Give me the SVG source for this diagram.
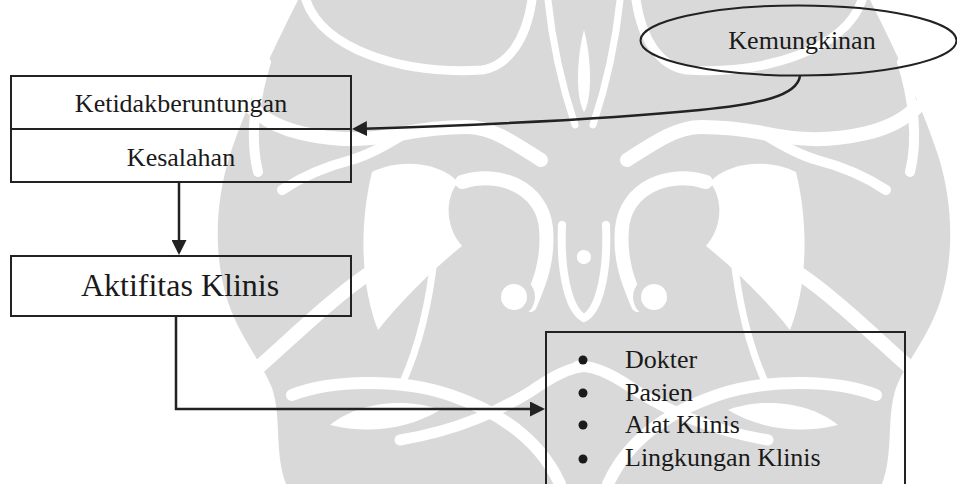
<svg xmlns="http://www.w3.org/2000/svg" xmlns:xlink="http://www.w3.org/1999/xlink" width="957" height="484" viewBox="0 0 957 484">
  <style>
    .wm { fill: #d9d9d9; stroke: none; }
    .wf { fill: #ffffff; stroke: none; }
    .wg { fill: none; stroke: #ffffff; stroke-linecap: round; }
    .shape { fill: none; stroke: #222222; stroke-width: 2; }
    .link { fill: none; stroke: #222222; stroke-width: 2.5; }
    text { font-family: "Liberation Serif", "Times New Roman", serif; fill: #1a1a1a; }
    .t26 { font-size: 26px; }
    .t32 { font-size: 32px; }
    .mid { text-anchor: middle; }
  </style>
  <defs>
    <marker id="ah" viewBox="0 0 15 15" refX="12" refY="7.5" markerWidth="15" markerHeight="15" markerUnits="userSpaceOnUse" orient="auto">
      <path d="M0,0 L15,7.5 L0,15 Z" fill="#222222"/>
    </marker>
    <!-- left half of the background ornament, mirrored about x=584 -->
    <g id="ornament-half">
      <path class="wm" d="M584,0 H298 C278,40 246,105 230,155 C214,205 214,260 228,302 C240,338 262,362 272,388 C282,418 274,452 286,484 H584 Z"/>
      <!-- upper arcs -->
      <path class="wg" stroke-width="9" d="M306,0 C322,48 400,75 482,70 C508,66 526,40 532,0"/>
      <path class="wg" stroke-width="10" d="M266,62 C254,100 250,140 258,172"/>
      <path class="wg" stroke-width="14" d="M541,160 C510,140 490,127 467,127 C440,127 420,130 400,134 C370,140 340,142 301,133 C280,128 262,118 251,107"/>
      <path class="wg" stroke-width="10" d="M404,134 C385,146 365,156 351,160 C320,168 300,178 282,190"/>
      <!-- open space beside the curl -->
      <path class="wf" d="M372,172 C400,158 440,162 458,182 C444,200 446,228 462,246 C432,270 402,300 378,330 C362,290 358,230 372,172 Z"/>
      <!-- curl ending in the eye -->
      <path class="wg" stroke-width="14" d="M462,182 C500,170 542,188 546,228 C549,262 538,286 530,305"/>
      <circle class="wm" cx="514" cy="297" r="21"/>
      <circle class="wf" cx="514" cy="297" r="13"/>
      <path class="wg" stroke-width="14" d="M368,274 C330,300 290,340 251,374"/>
      <path class="wg" stroke-width="7" d="M436,238 C432,290 422,340 402,384"/>
      <!-- lower waves -->
      <path class="wg" stroke-width="12" d="M292,395 C330,380 400,378 450,395 C500,412 540,440 560,484"/>
      <path class="wg" stroke-width="11" d="M590,366 C570,366 550,378 530,392 C500,410 460,430 400,440"/>
      <path class="wf" d="M330,425 C360,400 410,398 440,410 C410,428 370,435 330,425 Z"/>
      <!-- centre column -->
      <path class="wg" stroke-width="8" d="M562,225 C560,270 568,310 584,318"/>
      <circle class="wf" cx="584" cy="257" r="7"/>
      <path class="wf" d="M584,30 C576,60 576,100 584,112 Z"/>
      <path class="wg" stroke-width="7" d="M548,0 C552,40 560,80 575,125"/>
    </g>
  </defs>

  <rect width="957" height="484" fill="#ffffff"/>

  <g id="background-ornament">
    <use xlink:href="#ornament-half"/>
    <use xlink:href="#ornament-half" transform="matrix(-1 0 0 1 1168 0)"/>
  </g>

  <g id="connectors">
    <path class="link" marker-end="url(#ah)" d="M800,76 C797,96 760,104 700,110 C600,120 450,126 355,129"/>
    <path class="link" marker-end="url(#ah)" d="M179,182 V252"/>
    <path class="link" marker-end="url(#ah)" d="M176,316 V409 H542"/>
  </g>

  <g id="kemungkinan">
    <ellipse class="shape" cx="798.5" cy="40.5" rx="158" ry="35"/>
    <text class="t26 mid" x="802" y="49">Kemungkinan</text>
  </g>

  <g id="ketidakberuntungan-kesalahan">
    <rect class="shape" x="11" y="76" width="340" height="106"/>
    <line class="shape" x1="11" y1="129" x2="351" y2="129"/>
    <text class="t26 mid" x="181" y="112">Ketidakberuntungan</text>
    <text class="t26 mid" x="181" y="166">Kesalahan</text>
  </g>

  <g id="aktifitas-klinis">
    <rect class="shape" x="11" y="256" width="340" height="60"/>
    <text class="t32 mid" x="180" y="296">Aktifitas Klinis</text>
  </g>

  <g id="faktor-klinis">
    <rect class="shape" x="546" y="332" width="359" height="170"/>
    <circle cx="583" cy="360" r="4.5" fill="#1a1a1a"/>
    <circle cx="583" cy="393" r="4.5" fill="#1a1a1a"/>
    <circle cx="583" cy="425" r="4.5" fill="#1a1a1a"/>
    <circle cx="583" cy="459" r="4.5" fill="#1a1a1a"/>
    <text class="t26" x="625" y="368">Dokter</text>
    <text class="t26" x="625" y="401">Pasien</text>
    <text class="t26" x="625" y="433">Alat Klinis</text>
    <text class="t26" x="625" y="466">Lingkungan Klinis</text>
  </g>
</svg>
